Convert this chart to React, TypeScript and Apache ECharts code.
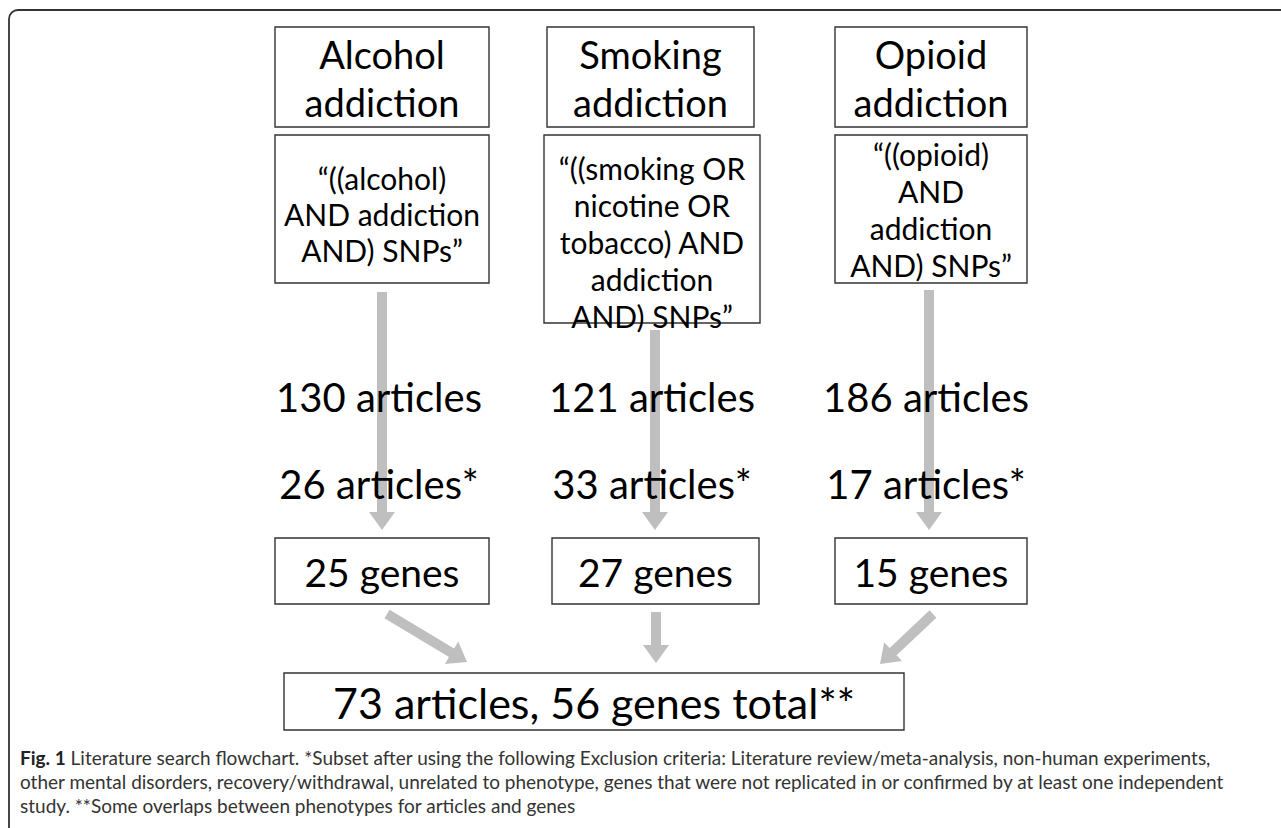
import React, { useEffect, useRef } from "react";
import * as echarts from "echarts";

// ---- content (text & numbers) ----
const phenotypes = ["Alcohol\naddiction", "Smoking\naddiction", "Opioid\naddiction"];
const queries = [
  "“((alcohol)\nAND addiction\nAND) SNPs”",
  "“((smoking OR\nnicotine OR\ntobacco) AND\naddiction\nAND) SNPs”",
  "“((opioid)\nAND\naddiction\nAND) SNPs”",
];
const articlesFound = [130, 121, 186];
const articlesKept = [26, 33, 17];
const genesFound = [25, 27, 15];
const totalArticles = 73;
const totalGenes = 56;
const captionBold = "Fig. 1";
const captionLines = [
  " Literature search flowchart. *Subset after using the following Exclusion criteria: Literature review/meta-analysis, non-human experiments,",
  "other mental disorders, recovery/withdrawal, unrelated to phenotype, genes that were not replicated in or confirmed by at least one independent",
  "study. **Some overlaps between phenotypes for articles and genes",
];

// ---- layout (positions only) ----
const titleBoxes = [
  [275, 489],
  [547, 754],
  [835, 1027],
];
const queryBoxes = [
  [275, 489, 283],
  [544, 760, 323],
  [835, 1027, 283],
];
const geneBoxes = [
  [275, 489],
  [552, 759],
  [835, 1027],
];
const colCenters = [382, 655, 929];
const queryCenters = [214, 242, 209];
const queryLineHeights = [36, 37, 37];
const arrowStarts = [292, 330, 290];
const diagArrows = [
  [387, 614, 467, 662],
  [656, 612, 656, 663],
  [933, 614, 880, 664],
];

const FONT = "Lato, 'Open Sans', sans-serif";
const BOX = "#333";
const ARROW = "#bfbfbf";

function arrowPoints(x1: number, y1: number, x2: number, y2: number) {
  const w = 5, h = 13, L = 18;
  const dx = x2 - x1, dy = y2 - y1;
  const len = Math.hypot(dx, dy);
  const ux = dx / len, uy = dy / len;
  const nx = -uy, ny = ux;
  const bx = x2 - ux * L, by = y2 - uy * L;
  return [
    [x1 + nx * w, y1 + ny * w],
    [bx + nx * w, by + ny * w],
    [bx + nx * h, by + ny * h],
    [x2, y2],
    [bx - nx * h, by - ny * h],
    [bx - nx * w, by - ny * w],
    [x1 - nx * w, y1 - ny * w],
  ];
}

function box(x0: number, y0: number, x1: number, y1: number) {
  return {
    type: "rect",
    shape: { x: x0, y: y0, width: x1 - x0, height: y1 - y0 },
    style: { fill: "#fff", stroke: BOX, lineWidth: 1.4 },
    z: 5,
  };
}

function text(t: string, x: number, y: number, size: number, lh: number, z = 10) {
  return {
    type: "text",
    z,
    style: {
      text: t,
      x,
      y,
      fontFamily: FONT,
      fontSize: size,
      lineHeight: lh,
      fill: "#000",
      textAlign: "center",
      textVerticalAlign: "middle",
      align: "center",
      verticalAlign: "middle",
    },
  };
}

export default function App() {
  const ref = useRef<HTMLDivElement>(null);
  useEffect(() => {
    if (!ref.current) return;
    const chart = echarts.init(ref.current, undefined, { renderer: "svg" });
    const els: any[] = [];

    // outer frame (open to right/bottom)
    els.push({
      type: "rect",
      shape: { x: 9, y: 10, width: 1500, height: 1000, r: 9 },
      style: { fill: "none", stroke: "#333", lineWidth: 1.8 },
      z: 1,
    });

    phenotypes.forEach((p, i) => {
      const [tx0, tx1] = titleBoxes[i];
      els.push(box(tx0, 27, tx1, 127));
      els.push(text(p, (tx0 + tx1) / 2, 78, 38, 48));

      const [qx0, qx1, qy1] = queryBoxes[i];
      els.push(box(qx0, 135, qx1, qy1));
      els.push(text(queries[i], (qx0 + qx1) / 2, queryCenters[i], 30, queryLineHeights[i]));

      // vertical arrow
      els.push({
        type: "polygon",
        shape: { points: arrowPoints(colCenters[i], arrowStarts[i], colCenters[i], 530) },
        style: { fill: ARROW },
        z: 3,
      });

      els.push(text(`${articlesFound[i]} articles`, colCenters[i] - 3, 397, 40, 48));
      els.push(text(`${articlesKept[i]} articles*`, colCenters[i] - 3, 484, 40, 48));

      const [gx0, gx1] = geneBoxes[i];
      els.push(box(gx0, 538, gx1, 604));
      els.push(text(`${genesFound[i]} genes`, (gx0 + gx1) / 2, 572, 39, 44));

      const [a, b, c, d] = diagArrows[i];
      els.push({
        type: "polygon",
        shape: { points: arrowPoints(a, b, c, d) },
        style: { fill: ARROW },
        z: 3,
      });
    });

    els.push(box(284, 673, 904, 730));
    els.push(text(`${totalArticles} articles, ${totalGenes} genes total**`, 594, 702, 43, 48));

    // caption
    els.push({
      type: "text",
      z: 10,
      style: {
        text: `{b|${captionBold}}{n|${captionLines[0]}}`,
        x: 20,
        y: 757,
        textAlign: "left",
        textVerticalAlign: "middle",
        align: "left",
        verticalAlign: "middle",
        rich: {
          b: { fontFamily: FONT, fontSize: 19, fontWeight: "bold", fill: "#222" },
          n: { fontFamily: FONT, fontSize: 19, fill: "#333" },
        },
      },
    });
    [captionLines[1], captionLines[2]].forEach((l, k) => {
      els.push({
        type: "text",
        z: 10,
        style: {
          text: l,
          x: 20,
          y: 781 + k * 24,
          fontFamily: FONT,
          fontSize: 19,
          fill: "#333",
          textAlign: "left",
          textVerticalAlign: "middle",
          align: "left",
          verticalAlign: "middle",
        },
      });
    });

    chart.setOption({
      animation: false,
      backgroundColor: "#fff",
      graphic: { elements: els },
    });
    return () => chart.dispose();
  }, []);
  return (
    <div
      ref={ref}
      style={{ position: "absolute", left: 0, top: 0, width: 1281, height: 828 }}
    />
  );
}
